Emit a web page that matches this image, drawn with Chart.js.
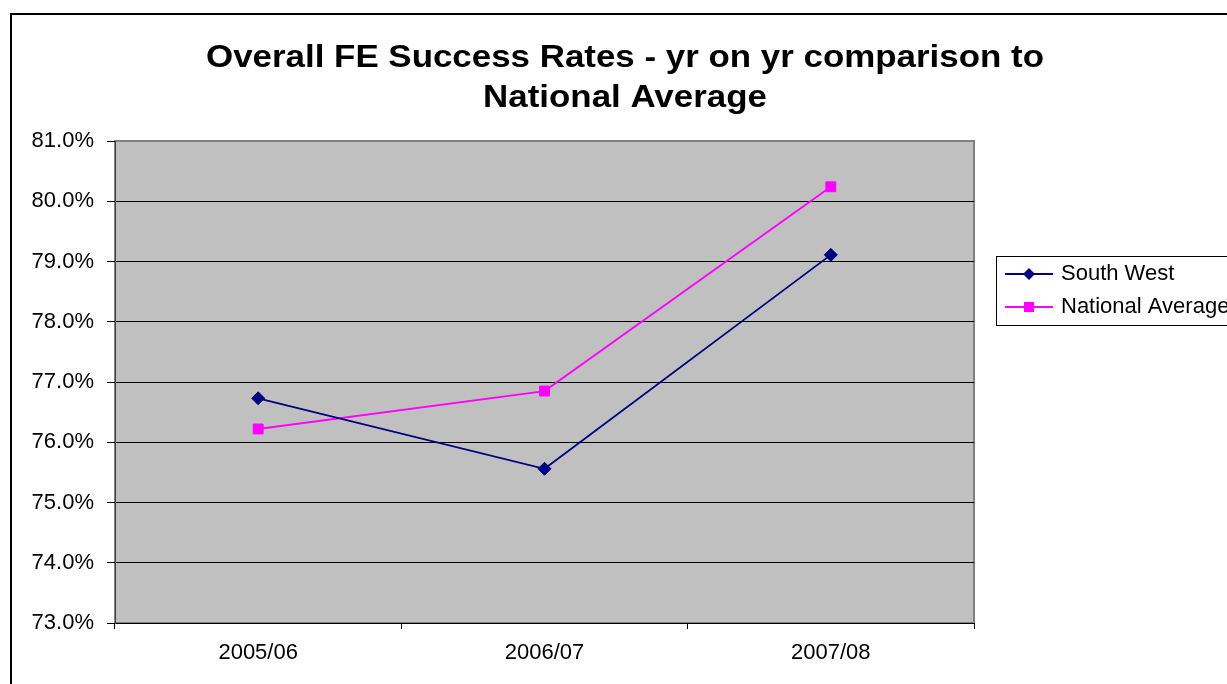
<!DOCTYPE html>
<html>
<head>
<meta charset="utf-8">
<script src="https://cdn.jsdelivr.net/npm/chart.js@4.4.0/dist/chart.umd.min.js"></script>
<style>
html,body{margin:0;padding:0;background:#fff;}
#wrap{position:relative;width:1227px;height:684px;}
</style>
</head>
<body>
<div id="wrap"><canvas id="c" width="1227" height="684"></canvas></div>
<script>
const categories = ['2005/06', '2006/07', '2007/08'];
const southWest = [76.73, 75.56, 79.11];
const nationalAverage = [76.22, 76.85, 80.24];
const seriesNames = ['South West', 'National Average'];
const titleLines = ['Overall FE Success Rates - yr on yr comparison to', 'National Average'];
const yMin = 73, yMax = 81, yStep = 1;

const FONT = '"Liberation Sans", Arial, sans-serif';

const frame = {
  id: 'frame',
  beforeDraw(chart) {
    const ctx = chart.ctx, a = chart.chartArea;
    ctx.save();
    ctx.fillStyle = '#fff';
    ctx.fillRect(0, 0, chart.width, chart.height);
    // outer border (top and left visible)
    ctx.strokeStyle = '#000';
    ctx.lineWidth = 2;
    ctx.beginPath();
    ctx.moveTo(11, 700); ctx.lineTo(11, 14); ctx.lineTo(1240, 14);
    ctx.stroke();
    // plot area
    ctx.fillStyle = '#C0C0C0';
    ctx.fillRect(a.left, a.top, a.right - a.left, a.bottom - a.top);
    ctx.strokeStyle = '#808080';
    ctx.lineWidth = 2;
    ctx.strokeRect(a.left, a.top, a.right - a.left, a.bottom - a.top);
    // title
    ctx.fillStyle = '#000';
    ctx.font = 'bold 32px ' + FONT;
    ctx.textAlign = 'center';
    ctx.textBaseline = 'middle';
    const sx = 838 / ctx.measureText(titleLines[0]).width;
    const ys = [58, 98];
    titleLines.forEach((t, i) => {
      ctx.save();
      ctx.translate(625, ys[i]);
      ctx.scale(sx, 1);
      ctx.fillText(t, 0, 0);
      ctx.restore();
    });
    ctx.restore();
  },
  afterDraw(chart) {
    const ctx = chart.ctx;
    ctx.save();
    // legend box
    ctx.strokeStyle = '#000';
    ctx.lineWidth = 1;
    ctx.strokeRect(996.5, 256.5, 260, 69);
    ctx.font = '22px ' + FONT;
    ctx.textAlign = 'left';
    ctx.textBaseline = 'middle';
    chart.data.datasets.forEach((ds, i) => {
      const y = 274 + i * 33;
      ctx.strokeStyle = ds.borderColor;
      ctx.lineWidth = 2;
      ctx.beginPath(); ctx.moveTo(1005, y); ctx.lineTo(1053, y); ctx.stroke();
      ctx.fillStyle = ds.pointBackgroundColor;
      if (ds.pointStyle === 'rectRot') {
        ctx.beginPath();
        ctx.moveTo(1029, y - 6); ctx.lineTo(1035, y); ctx.lineTo(1029, y + 6); ctx.lineTo(1023, y);
        ctx.closePath(); ctx.fill();
      } else {
        ctx.fillRect(1024, y - 5, 10, 10);
      }
      ctx.fillStyle = '#000';
      ctx.fillText(ds.label, 1061, y);
    });
    ctx.restore();
  }
};

new Chart(document.getElementById('c'), {
  type: 'line',
  data: {
    labels: categories,
    datasets: [
      {
        label: seriesNames[0],
        data: southWest,
        borderColor: '#000080',
        backgroundColor: '#000080',
        pointBackgroundColor: '#000080',
        pointBorderColor: '#000080',
        pointStyle: 'rectRot',
        pointRadius: 6.5,
        pointBorderWidth: 1,
        borderWidth: 1.8,
        tension: 0
      },
      {
        label: seriesNames[1],
        data: nationalAverage,
        borderColor: '#FF00FF',
        backgroundColor: '#FF00FF',
        pointBackgroundColor: '#FF00FF',
        pointBorderColor: '#FF00FF',
        pointStyle: 'rect',
        pointRadius: 7,
        pointBorderWidth: 1,
        borderWidth: 1.8,
        tension: 0
      }
    ]
  },
  options: {
    responsive: false,
    animation: false,
    devicePixelRatio: 1,
    layout: { padding: { left: 10, top: 141, right: 253, bottom: 0 } },
    plugins: {
      legend: { display: false },
      title: { display: false },
      tooltip: { enabled: false }
    },
    scales: {
      x: {
        offset: true,
        afterFit(s) { s.height = 61; },
        grid: {
          offset: true,
          drawOnChartArea: false,
          drawTicks: true,
          tickLength: 6,
          tickColor: '#000',
          color: '#000'
        },
        border: { display: true, color: '#000', width: 1 },
        ticks: {
          color: '#000',
          font: { family: FONT, size: 22 },
          padding: 11,
          maxRotation: 0
        }
      },
      y: {
        min: yMin,
        max: yMax,
        afterFit(s) { s.width = 105; },
        grid: {
          color: (c) => (c.tick && c.tick.value === yMax) ? '#808080' : '#000',
          lineWidth: 1,
          drawTicks: true,
          tickLength: 8,
          tickColor: '#000'
        },
        border: { display: true, color: '#404040', width: 1 },
        ticks: {
          stepSize: yStep,
          color: '#000',
          font: { family: FONT, size: 22 },
          padding: 13,
          callback: (v) => Number(v).toFixed(1) + '%'
        }
      }
    }
  },
  plugins: [frame]
});
</script>
</body>
</html>
